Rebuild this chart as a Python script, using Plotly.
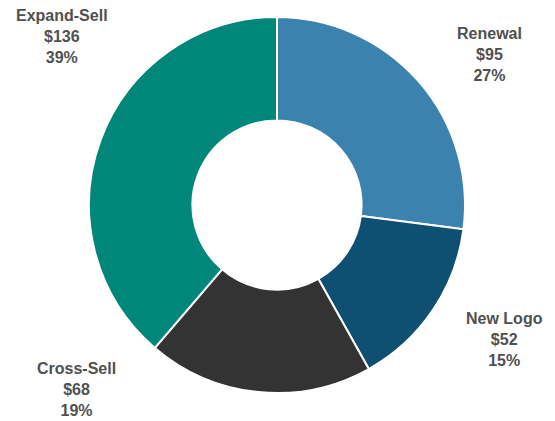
import plotly.graph_objects as go

# segment data, clockwise from 12 o'clock
labels = ["Renewal", "New Logo", "Cross-Sell", "Expand-Sell"]
values = [95, 52, 68, 136]
colors = ["#3B82AE", "#0F4F71", "#333333", "#00877A"]

# outside label centres (screen px)
label_x = [489, 504, 76, 62]
label_y = [54, 339, 389, 36]

W, H = 555, 421
OFF = 8  # page body margin
total = sum(values)
cx, cy, r = 277 - OFF, 205 - OFF, 188

fig = go.Figure(go.Pie(
    labels=labels,
    values=values,
    hole=0.45,
    sort=False,
    direction="clockwise",
    rotation=0,
    marker=dict(colors=colors, line=dict(color="white", width=2)),
    textinfo="none",
    hoverinfo="label+value+percent",
    domain=dict(x=[(cx - r) / W, (cx + r) / W],
                y=[(H - cy - r) / H, (H - cy + r) / H]),
    showlegend=False,
))

for lab, v, x, y in zip(labels, values, label_x, label_y):
    fig.add_annotation(
        x=(x - OFF) / W, y=1 - (y - OFF) / H, xref="paper", yref="paper",
        xanchor="center", yanchor="middle", borderpad=0,
        text=f"<b>{lab}<br>${v}<br>{round(v / total * 100)}%</b>",
        showarrow=False, align="center",
        font=dict(family="Liberation Sans, Arial", size=16, color="#505050"),
    )

fig.update_layout(
    width=W, height=H,
    margin=dict(l=0, r=0, t=0, b=0),
    paper_bgcolor="white",
    plot_bgcolor="white",
)

fig.write_html("out.html")
